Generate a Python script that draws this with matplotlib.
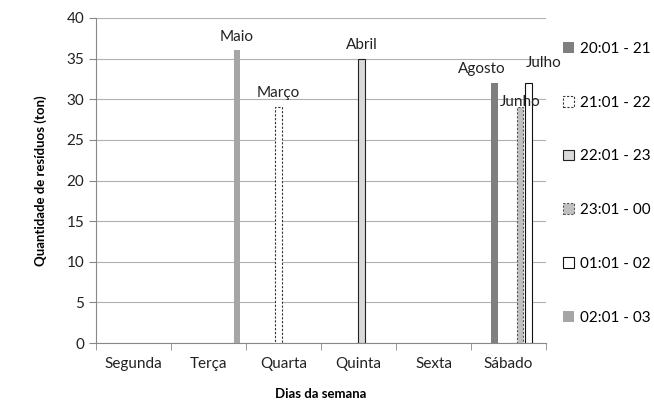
import numpy as np
import matplotlib.pyplot as plt
from matplotlib.patches import Patch

plt.rcParams['font.family'] = ['Lato', 'DejaVu Sans']

days = ['Segunda', 'Terça', 'Quarta', 'Quinta', 'Sexta', 'Sábado']
series = ['20:01 - 21', '21:01 - 22', '22:01 - 23', '23:01 - 00', '01:01 - 02', '02:01 - 03']

# values per series, one per day (0 = no bar)
v_2021 = [0, 0, 0, 0, 0, 32]
v_2122 = [0, 0, 29, 0, 0, 0]
v_2223 = [0, 0, 0, 35, 0, 0]
v_2300 = [0, 0, 0, 0, 0, 29]
v_0102 = [0, 0, 0, 0, 0, 32]
v_0203 = [0, 36, 0, 0, 0, 0]
values = [v_2021, v_2122, v_2223, v_2300, v_0102, v_0203]

# month label for each non-zero bar
l_2021 = ['', '', '', '', '', 'Agosto']
l_2122 = ['', '', 'Março', '', '', '']
l_2223 = ['', '', '', 'Abril', '', '']
l_2300 = ['', '', '', '', '', 'Junho']
l_0102 = ['', '', '', '', '', 'Julho']
l_0203 = ['', 'Maio', '', '', '', '']
labels = [l_2021, l_2122, l_2223, l_2300, l_0102, l_0203]

styles = [
    dict(facecolor='#7f7f7f', edgecolor='none'),
    dict(facecolor='white', edgecolor='#333333', linestyle=(0, (2, 1.5))),
    dict(facecolor='#d9d9d9', edgecolor='#222222'),
    dict(facecolor='#c0c0c0', edgecolor='#555555', linestyle=(0, (2, 1.5))),
    dict(facecolor='white', edgecolor='#111111'),
    dict(facecolor='#a6a6a6', edgecolor='none'),
]
label_shift = [-9, 0, 0, 0, 11, 0]
label_y = [5, 5, 5, -1, 9, 5]

fig = plt.figure(figsize=(6.54, 4.08), dpi=100)
ax = fig.add_axes([0.147, 0.159, 0.688, 0.797])

x = np.arange(len(days))
step = 0.113
shift = 0.097
width = 0.09
for i, (vals, st) in enumerate(zip(values, styles)):
    vals = np.array(vals, dtype=float)
    keep = vals > 0
    pos = (x + shift + (i - 2.5) * step)[keep]
    bars = ax.bar(pos, vals[keep], width, linewidth=0.8, zorder=3, **st)
    labs = [l for l, k in zip(labels[i], keep) if k]
    for b, v, lab in zip(bars, vals[keep], labs):
        ax.annotate(lab, (b.get_x() + b.get_width() / 2, v),
                    xytext=(label_shift[i], label_y[i]), textcoords='offset points',
                    ha='center', va='bottom', fontsize=11, color='#222222', zorder=4)

ax.set_xlim(-0.5, len(days) - 0.5)
ax.set_ylim(0, 40)
ax.set_yticks(range(0, 41, 5))
ax.yaxis.grid(True, color='#b0b0b0', linewidth=0.8)
ax.set_axisbelow(True)
ax.set_xticks(x)
ax.set_xticklabels(days, fontsize=11, color='#222222')
ax.set_xticks(np.arange(-0.5, len(days), 1), minor=True)
ax.tick_params(axis='x', which='major', length=0, pad=10)
ax.tick_params(axis='x', which='minor', length=5, color='#888888')
ax.tick_params(axis='y', length=5, color='#888888', labelsize=11, labelcolor='#222222')
for s in ['top', 'right']:
    ax.spines[s].set_visible(False)
for s in ['left', 'bottom']:
    ax.spines[s].set_color('#888888')

ax.set_xlabel('Dias da semana', fontsize=9.5, fontweight='bold', labelpad=12)
ax.set_ylabel('Quantidade de resíduos (ton)', fontsize=9.5, fontweight='bold', labelpad=14)

handles = [Patch(label=s, linewidth=0.8, **st) for s, st in zip(series, styles)]
fig.legend(handles=handles, loc='upper left', bbox_to_anchor=(0.852, 0.912),
           frameon=False, fontsize=11, handlelength=0.7, handleheight=0.7,
           handletextpad=0.4, labelspacing=2.6, borderaxespad=0)

fig.savefig('out.png', dpi=100)
